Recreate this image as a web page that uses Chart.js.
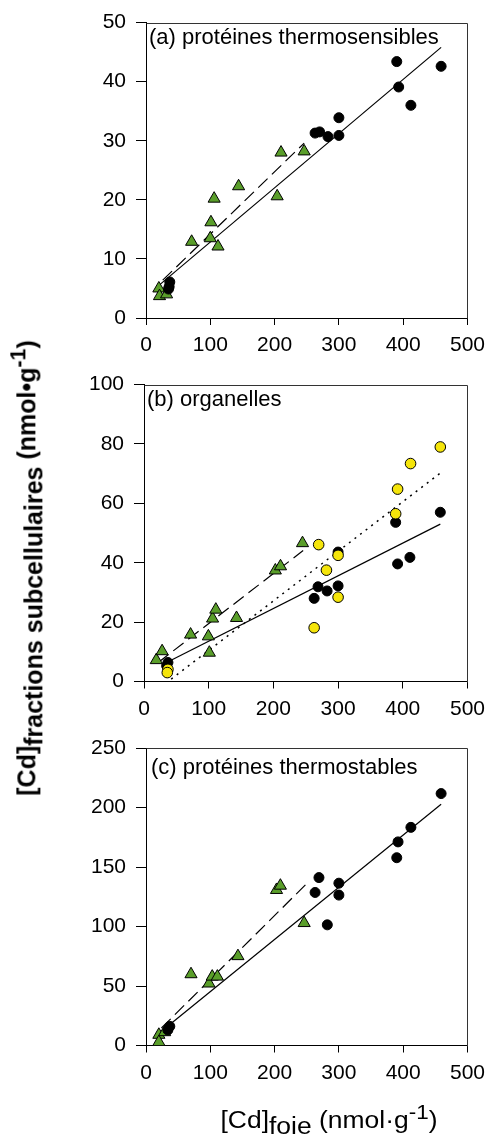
<!DOCTYPE html>
<html><head><meta charset="utf-8">
<script src="https://cdn.jsdelivr.net/npm/chart.js@4/dist/chart.umd.min.js"></script>
<style>
html,body{margin:0;padding:0;background:#fff;}
#wrap{position:relative;width:493px;height:1138px;overflow:hidden;font-family:"Liberation Sans",Arial,sans-serif;}
canvas{position:absolute;left:0;}
.lbl{position:absolute;white-space:nowrap;color:#000;line-height:1;}
.sub{position:relative;top:0.28em;}
.sup{position:relative;top:-0.45em;font-size:0.85em;}
</style></head><body>
<div id="wrap">
<canvas id="cA" width="493" height="362" style="top:0px"></canvas>
<canvas id="cB" width="493" height="362" style="top:362px"></canvas>
<canvas id="cC" width="493" height="414" style="top:724px"></canvas>
<div class="lbl" style="left:149px;top:26px;font-size:22px;">(a) protéines thermosensibles</div>
<div class="lbl" style="left:147px;top:388px;font-size:22px;">(b) organelles</div>
<div class="lbl" style="left:151px;top:756px;font-size:22px;">(c) protéines thermostables</div>
<div class="lbl" id="ytitle" style="left:27px;top:568px;font-size:25px;font-weight:bold;transform:translate(-50%,-50%) rotate(-90deg);">[Cd]<span class="sub">fractions subcellulaires</span> (nmol•g<span class="sup">-1</span>)</div>
<div class="lbl" id="xtitle" style="left:329px;top:1120px;font-size:23px;transform:translate(-50%,-50%) scaleX(1.15);">[Cd]<span class="sub">foie</span> (nmol·g<span class="sup">-1</span>)</div>
</div>
<script>
// ---- tick labels ----
const xTicks = [0, 100, 200, 300, 400, 500];
const yTicksA = [0, 10, 20, 30, 40, 50];
const yTicksB = [0, 20, 40, 60, 80, 100];
const yTicksC = [0, 50, 100, 150, 200, 250];

// ---- panel (a) protéines thermosensibles ----
const aCircX = [390, 459, 393, 412, 300, 263, 270, 283, 300, 37, 36, 35];
const aCircY = [43.4, 42.6, 39.1, 36.0, 33.9, 31.3, 31.5, 30.7, 30.9, 6.1, 5.3, 4.9];
const aTriX = [20, 21, 32, 71, 101, 100, 106, 112, 144, 204, 210, 246];
const aTriY = [5.0, 3.7, 4.0, 12.9, 16.2, 13.5, 20.2, 12.1, 22.3, 20.6, 28.0, 28.2];
const aSolidX = [21, 459], aSolidY = [5.6, 45.8];
const aDashX = [26, 246], aDashY = [6.4, 29.6];

// ---- panel (b) organelles ----
const bCircX = [458, 389, 392, 411, 300, 269, 283, 300, 263, 37, 35];
const bCircY = [57.0, 53.6, 39.6, 41.8, 43.6, 31.9, 30.5, 32.2, 28.0, 6.4, 5.3];
const bYelX = [458, 412, 392, 389, 270, 282, 300, 300, 263, 37, 36];
const bYelY = [79.0, 73.4, 64.8, 56.5, 46.1, 37.5, 42.5, 28.4, 18.1, 4.1, 3.0];
const bTriX = [19, 28, 72, 99.5, 101, 106, 111, 143, 203, 211, 245];
const bTriY = [7.2, 10.2, 15.8, 15.2, 9.7, 21.2, 24.2, 21.4, 37.4, 38.8, 46.6];
const bSolidX = [29.6, 458], bSolidY = [5.8, 53.0];
const bDashX = [22, 246], bDashY = [6.4, 44.1];
const bDotX = [42, 461], bDotY = [0.8, 70.7];

// ---- panel (c) protéines thermostables ----
const cCircX = [459, 412, 392, 390, 269, 300, 263, 300, 282, 37, 34];
const cCircY = [211.7, 183.3, 171.1, 157.8, 141.1, 136.4, 128.6, 126.4, 101.4, 16.1, 13];
const cTriX = [20, 20, 29, 70, 98, 103, 111, 143, 203, 209, 246];
const cTriY = [9.0, 2.9, 11.2, 59.9, 52.1, 57.9, 57.9, 75.1, 130.7, 134.3, 102.9];
const cSolidX = [27, 459], cSolidY = [13.3, 202.8];
const cDashX = [24, 248], cDashY = [14.7, 135];

const FONT = '"Liberation Sans", Arial, sans-serif';
const GREEN = '#5a9e2a';
const YELLOW = '#f5e50a';

function pts(xs, ys) { return xs.map((x, i) => ({x: x, y: ys[i]})); }

function circles(xs, ys, color, r, order) {
  return {data: pts(xs, ys), pointStyle: 'circle', pointRadius: r, backgroundColor: color,
    borderColor: '#000', pointBorderWidth: 1, showLine: false, order: order};
}
function tris(xs, ys, order) {
  return {data: pts(xs, ys), pointStyle: 'triangle', pointRadius: 7, backgroundColor: GREEN,
    borderColor: '#000', pointBorderWidth: 1, showLine: false, order: order};
}
function line(xs, ys, dash, w, order) {
  return {data: pts(xs, ys), showLine: true, pointRadius: 0, borderColor: '#000',
    borderWidth: w, borderDash: dash, fill: false, order: order, tension: 0};
}

const framePlugin = {
  id: 'frame',
  afterDraw(chart) {
    const a = chart.chartArea, ctx = chart.ctx;
    ctx.save();
    ctx.strokeStyle = '#333';
    ctx.lineWidth = 1;
    ctx.beginPath();
    const l = Math.round(a.left) + 0.5, t = Math.round(a.top) + 0.5;
    const r = Math.round(a.right) + 0.5, b = Math.round(a.bottom) + 0.5;
    ctx.moveTo(l, t); ctx.lineTo(r, t); ctx.lineTo(r, b);
    ctx.stroke();
    ctx.restore();
  }
};

function makeChart(id, yTicks, datasets, pad) {
  const yMax = yTicks[yTicks.length - 1];
  return new Chart(document.getElementById(id), {
    type: 'scatter',
    data: {datasets: datasets},
    options: {
      responsive: false, animation: false, events: [],
      layout: {padding: pad},
      plugins: {legend: {display: false}, tooltip: {enabled: false}},
      scales: {
        x: {
          type: 'linear', min: xTicks[0], max: xTicks[xTicks.length - 1],
          afterBuildTicks: s => { s.ticks = xTicks.map(v => ({value: v})); },
          afterFit: s => { s.height = 40; },
          grid: {display: true, drawOnChartArea: false, drawTicks: true, tickLength: 7, color: '#000', lineWidth: 1},
          border: {display: true, color: '#000', width: 1},
          ticks: {font: {family: FONT, size: 21}, color: '#000', padding: 8, maxRotation: 0, autoSkip: false}
        },
        y: {
          type: 'linear', min: yTicks[0], max: yMax,
          afterBuildTicks: s => { s.ticks = yTicks.map(v => ({value: v})); },
          afterFit: s => { s.width = 86; },
          grid: {display: true, drawOnChartArea: false, drawTicks: true, tickLength: 10, color: '#000', lineWidth: 1},
          border: {display: true, color: '#000', width: 1},
          ticks: {font: {family: FONT, size: 21}, color: '#000', padding: 10, autoSkip: false}
        }
      }
    },
    plugins: [framePlugin]
  });
}

makeChart('cA', yTicksA, [
  line(aSolidX, aSolidY, [], 1.2, 5),
  line(aDashX, aDashY, [13, 6], 1.2, 5),
  tris(aTriX, aTriY, 4),
  circles(aCircX, aCircY, '#000', 5, 3)
], {top: 20, left: 60, right: 20, bottom: 4});

makeChart('cB', yTicksB, [
  line(bSolidX, bSolidY, [], 1.2, 6),
  line(bDashX, bDashY, [13, 6], 1.2, 6),
  line(bDotX, bDotY, [2, 5], 1.5, 6),
  tris(bTriX, bTriY, 5),
  circles(bCircX, bCircY, '#000', 5, 4),
  circles(bYelX, bYelY, YELLOW, 5.3, 3)
], {top: 21, left: 58, right: 21.5, bottom: 2.5});

makeChart('cC', yTicksC, [
  line(cSolidX, cSolidY, [], 1.2, 5),
  line(cDashX, cDashY, [13, 6], 1.2, 5),
  tris(cTriX, cTriY, 4),
  circles(cCircX, cCircY, '#000', 5, 3)
], {top: 24, left: 60, right: 21, bottom: 52.5});
</script>
</body></html>
